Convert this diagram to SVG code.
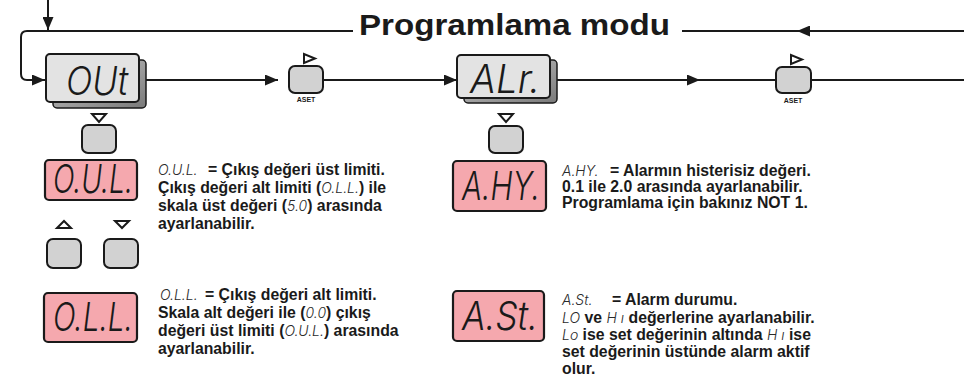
<svg xmlns="http://www.w3.org/2000/svg" width="964" height="387" viewBox="0 0 964 387">
<defs>
<marker id="ah" viewBox="0 0 13 11" refX="13" refY="5.5" markerWidth="13" markerHeight="11" markerUnits="userSpaceOnUse" orient="auto">
<path d="M0,0 L13,5.5 L0,11 Z" fill="#1a1a1a"/>
</marker>
<linearGradient id="sh" x1="0" y1="0" x2="1" y2="1">
<stop offset="0" stop-color="#c8c8c8"/>
<stop offset="1" stop-color="#7a7a7a"/>
</linearGradient>
</defs>
<style>
.ln{fill:none;stroke:#1a1a1a;stroke-width:2}
.gbox{fill:#e3e3e3;stroke:#1a1a1a;stroke-width:2}
.shadow{fill:url(#sh);stroke:#1a1a1a;stroke-width:1.5}
.pbox{fill:#f5a8ae;stroke:#1a1a1a;stroke-width:2.2}
.btn{fill:#d2d2d2;stroke:#1a1a1a;stroke-width:2}
.tri{fill:#fff;stroke:#1a1a1a;stroke-width:2;stroke-linejoin:miter}
.t{font-family:"Liberation Sans",Arial,sans-serif;font-weight:bold;font-size:15.8px;fill:#1a1a1a}
.title{font-family:"Liberation Sans",Arial,sans-serif;font-weight:bold;font-size:30px;fill:#1a1a1a}
.aset{font-family:"Liberation Sans",Arial,sans-serif;font-weight:bold;font-size:7px;fill:#1a1a1a;text-anchor:middle}
.seg{font-family:Inter,Roboto,Lato,"DejaVu Sans",sans-serif;font-weight:300;font-style:italic;font-size:14px;fill:#2a2a2a}
.big{font-family:Inter,Roboto,Lato,"DejaVu Sans",sans-serif;font-weight:300;font-style:italic;font-size:40px;fill:#1a1a1a}
</style>
<rect width="964" height="387" fill="#fff"/>

<g id="connectors">
<line class="ln" x1="48" y1="0" x2="48" y2="30" marker-end="url(#ah)"/>
<path class="ln" d="M353,31 H27 Q21,31 21,37 V74 Q21,80 27,80 H45" marker-end="url(#ah)"/>
<line class="ln" x1="146" y1="80" x2="278" y2="80" marker-end="url(#ah)"/>
<line class="ln" x1="323" y1="80" x2="457" y2="80" marker-end="url(#ah)"/>
<line class="ln" x1="557" y1="80" x2="700" y2="80" marker-end="url(#ah)"/>
<line class="ln" x1="698" y1="80" x2="776" y2="80" stroke-width="1.6"/>
<line class="ln" x1="811" y1="80" x2="964" y2="80"/>
<line class="ln" x1="964" y1="31" x2="797" y2="31" marker-end="url(#ah)"/>
<line class="ln" x1="799" y1="31" x2="682" y2="31"/>
</g>

<g id="title">
<text class="title" x="359" y="35" textLength="311" lengthAdjust="spacingAndGlyphs">Programlama modu</text>
</g>

<g id="node-out">
<rect class="shadow" x="53" y="60" width="93" height="48" rx="4"/>
<rect class="gbox" x="46" y="54" width="93" height="48" rx="4"/>
<text class="big" x="66" y="95" textLength="62" lengthAdjust="spacingAndGlyphs">OUt</text>
</g>

<g id="node-aset1">
<polygon class="tri" points="304,54 304,63 315,58.5"/>
<rect class="btn" x="289" y="66" width="34" height="27" rx="6"/>
<text class="aset" x="306" y="102">ASET</text>
</g>

<g id="node-alr">
<rect class="shadow" x="464" y="60" width="93" height="43" rx="4"/>
<rect class="gbox" x="457" y="55" width="93" height="43" rx="4"/>
<text class="big" x="470" y="93" textLength="70" lengthAdjust="spacingAndGlyphs">ALr.</text>
</g>

<g id="node-aset2">
<polygon class="tri" points="791,55 791,64 802,59.5"/>
<rect class="btn" x="776" y="67" width="35" height="26" rx="6"/>
<text class="aset" x="793" y="103">ASET</text>
</g>

<g id="node-down1">
<polygon class="tri" points="92,114 106,114 99,122"/>
<rect class="btn" x="82" y="125" width="34" height="28" rx="6"/>
</g>

<g id="node-oul">
<rect class="pbox" x="45" y="160" width="92" height="40" rx="4"/>
<text class="big" x="53" y="193" font-size="36" textLength="80" lengthAdjust="spacingAndGlyphs">O.U.L.</text>
</g>

<g id="text-oul">
<text class="seg" x="158" y="175">O.U.L.</text>
<text class="t" x="208" y="175">= Çıkış değeri üst limiti.</text>
<text class="t" x="158" y="193">Çıkış değeri alt limiti (<tspan class="seg">O.L.L.</tspan>) ile</text>
<text class="t" x="158" y="211">skala üst değeri (<tspan class="seg">5.0</tspan>) arasında</text>
<text class="t" x="158" y="229">ayarlanabilir.</text>
</g>

<g id="node-updown">
<polygon class="tri" points="57,228 71,228 64,221"/>
<rect class="btn" x="47" y="239" width="34" height="29" rx="6"/>
<polygon class="tri" points="115,221 129,221 122,228"/>
<rect class="btn" x="104" y="239" width="34" height="29" rx="6"/>
</g>

<g id="node-oll">
<rect class="pbox" x="44" y="293" width="93" height="49" rx="4"/>
<text class="big" x="53" y="331" font-size="36" textLength="80" lengthAdjust="spacingAndGlyphs">O.L.L.</text>
</g>

<g id="text-oll">
<text class="seg" x="160" y="300">O.L.L.</text>
<text class="t" x="205" y="300">= Çıkış değeri alt limiti.</text>
<text class="t" x="158" y="318">Skala alt değeri ile  (<tspan class="seg">0.0</tspan>) çıkış</text>
<text class="t" x="158" y="336">değeri üst limiti (<tspan class="seg">O.U.L.</tspan>) arasında</text>
<text class="t" x="158" y="354">ayarlanabilir.</text>
</g>

<g id="node-down2">
<polygon class="tri" points="499,114 513,114 506,122"/>
<rect class="btn" x="489" y="126" width="34" height="27" rx="6"/>
</g>

<g id="node-ahy">
<rect class="pbox" x="453" y="161" width="93" height="50" rx="4"/>
<text class="big" x="462" y="200" font-size="36" textLength="78" lengthAdjust="spacingAndGlyphs">A.HY.</text>
</g>

<g id="text-ahy">
<text class="seg" x="562" y="176">A.HY.</text>
<text class="t" x="610" y="176">= Alarmın histerisiz değeri.</text>
<text class="t" x="562" y="192">0.1 ile 2.0 arasında ayarlanabilir.</text>
<text class="t" x="562" y="208">Programlama için bakınız NOT 1.</text>
</g>

<g id="node-ast">
<rect class="pbox" x="453" y="291" width="91" height="50" rx="4"/>
<text class="big" x="462" y="330" font-size="36" textLength="76" lengthAdjust="spacingAndGlyphs">A.St.</text>
</g>

<g id="text-ast">
<text class="seg" x="562" y="305">A.St.</text>
<text class="t" x="612" y="305">= Alarm durumu.</text>
<text class="t" x="562" y="323"><tspan class="seg">LO</tspan> ve <tspan class="seg">H ı</tspan>  değerlerine ayarlanabilir.</text>
<text class="t" x="562" y="340"><tspan class="seg">Lo</tspan> ise set değerinin altında <tspan class="seg">H ı</tspan> ise</text>
<text class="t" x="562" y="357">set değerinin üstünde alarm aktif</text>
<text class="t" x="562" y="374">olur.</text>
</g>
</svg>
